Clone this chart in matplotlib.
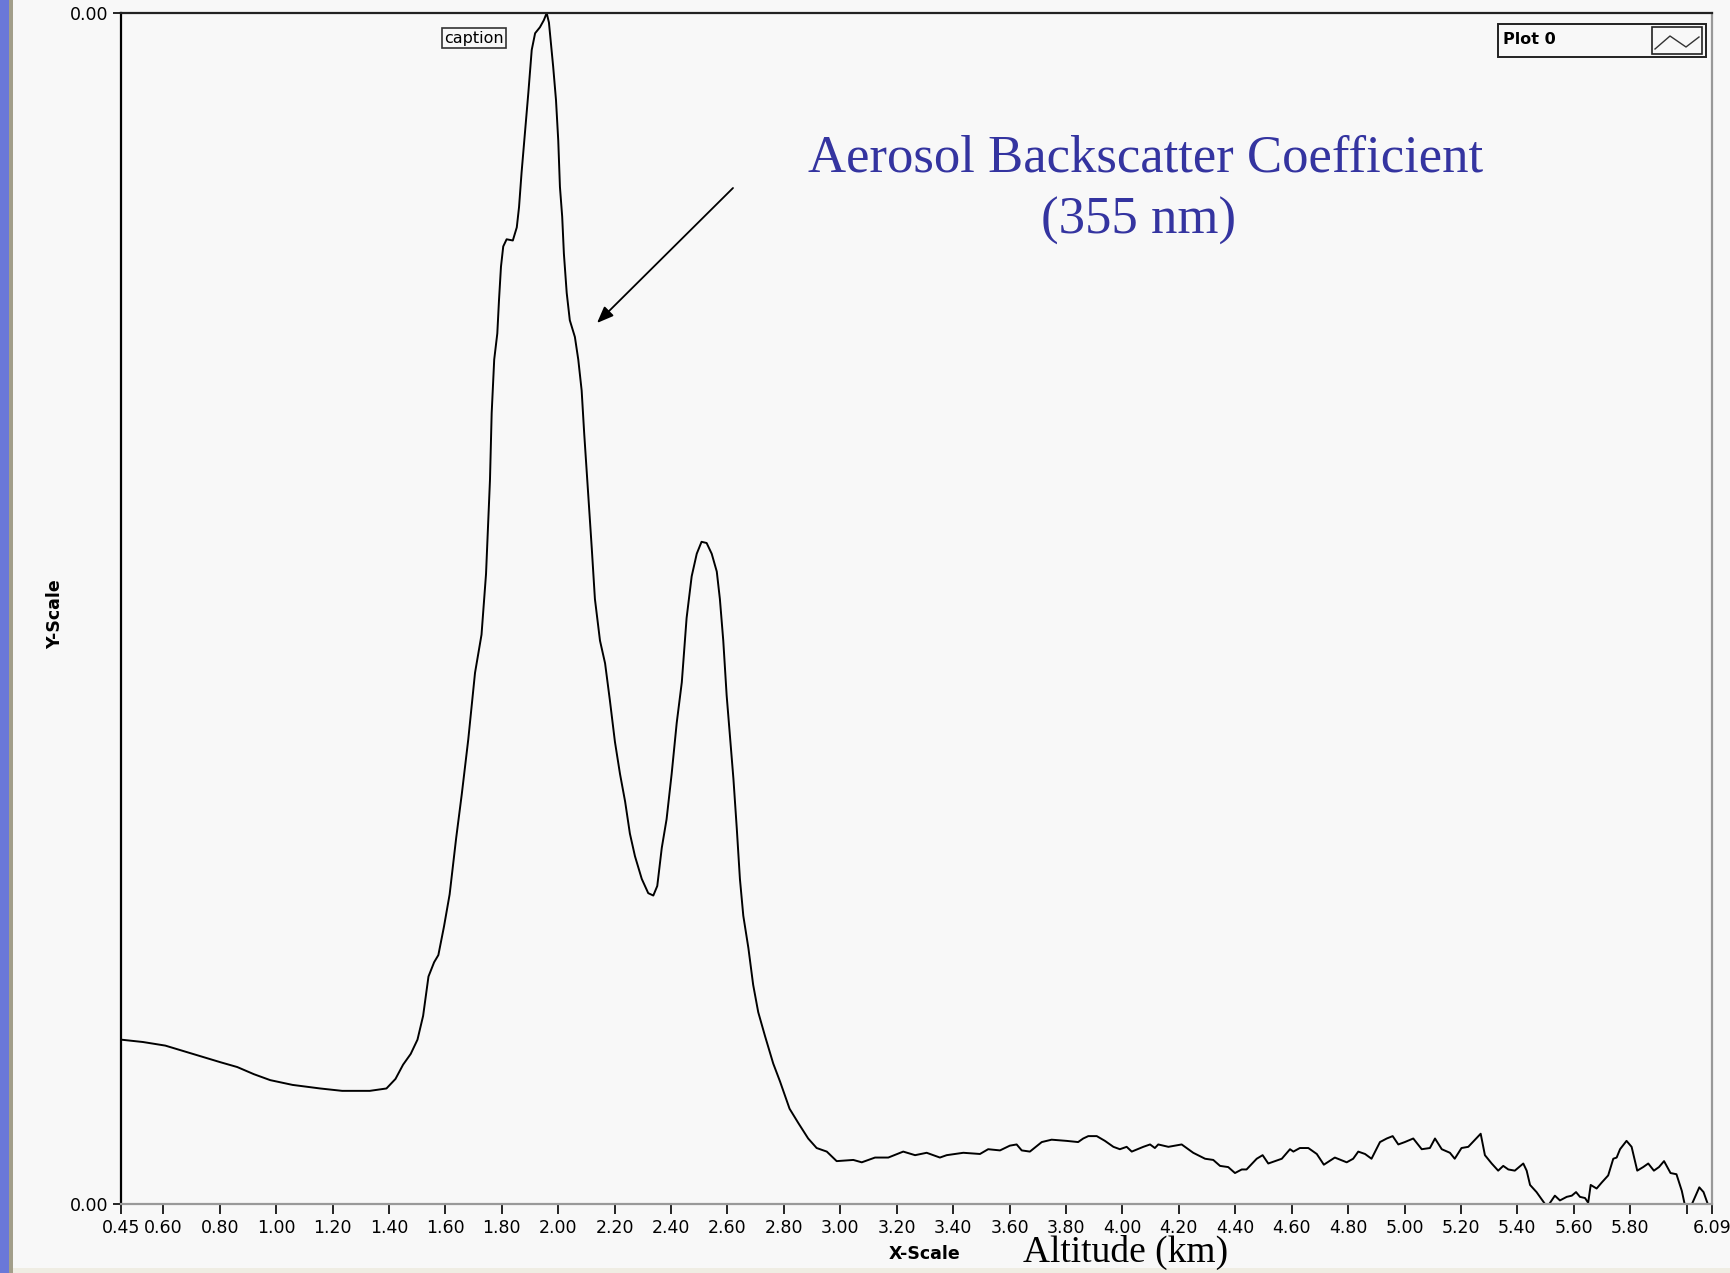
import matplotlib
matplotlib.use("Agg")
import matplotlib.pyplot as plt
from matplotlib.patches import Rectangle
from matplotlib.lines import Line2D
import numpy as np

# Altitude (km) and relative backscatter (percent of plotted range)
altitude_km = [
    0.450, 0.528, 0.607, 0.705, 0.803, 0.862, 0.921, 0.979, 1.058, 1.156, 1.234, 1.332,
    1.391, 1.423, 1.450, 1.477, 1.501, 1.521, 1.540, 1.560, 1.575, 1.595, 1.615, 1.638,
    1.658, 1.681, 1.705, 1.728, 1.744, 1.758, 1.764, 1.773, 1.784, 1.790, 1.797, 1.805,
    1.817, 1.839, 1.853, 1.861, 1.870, 1.882, 1.894, 1.906, 1.918, 1.935, 1.949, 1.959,
    1.967, 1.982, 1.992, 2.000, 2.006, 2.014, 2.020, 2.030, 2.041, 2.059, 2.071, 2.083,
    2.092, 2.103, 2.119, 2.130, 2.148, 2.166, 2.183, 2.201, 2.219, 2.237, 2.254, 2.272,
    2.296, 2.319, 2.337, 2.351, 2.367, 2.384, 2.402, 2.420, 2.438, 2.455, 2.473, 2.491,
    2.508, 2.526, 2.544, 2.562, 2.573, 2.585, 2.597, 2.609, 2.621, 2.633, 2.644, 2.656,
    2.674, 2.691, 2.709, 2.733, 2.762, 2.786, 2.820, 2.851, 2.886, 2.916, 2.952, 2.987,
    3.046, 3.076, 3.123, 3.170, 3.223, 3.265, 3.306, 3.353, 3.377, 3.436, 3.495, 3.524,
    3.566, 3.601, 3.625, 3.643, 3.672, 3.714, 3.749, 3.802, 3.843, 3.861, 3.879, 3.909,
    3.938, 3.968, 3.991, 4.015, 4.033, 4.074, 4.098, 4.115, 4.127, 4.163, 4.210, 4.251,
    4.293, 4.322, 4.346, 4.375, 4.399, 4.423, 4.440, 4.464, 4.476, 4.497, 4.517, 4.541,
    4.565, 4.594, 4.606, 4.629, 4.659, 4.689, 4.714, 4.753, 4.795, 4.818, 4.836, 4.860,
    4.883, 4.913, 4.937, 4.958, 4.978, 5.001, 5.031, 5.061, 5.090, 5.108, 5.132, 5.161,
    5.178, 5.202, 5.226, 5.270, 5.285, 5.309, 5.332, 5.350, 5.368, 5.391, 5.421, 5.433,
    5.445, 5.468, 5.498, 5.513, 5.533, 5.551, 5.575, 5.593, 5.608, 5.622, 5.640, 5.651,
    5.660, 5.681, 5.699, 5.722, 5.740, 5.752, 5.764, 5.787, 5.805, 5.825, 5.846, 5.864,
    5.884, 5.902, 5.920, 5.943, 5.964, 5.983, 5.993, 6.019, 6.045, 6.060, 6.075, 6.090]
backscatter_rel = [
    13.8, 13.6, 13.3, 12.6, 11.9, 11.5, 10.9, 10.4, 10.0, 9.7, 9.5, 9.5,
    9.7, 10.5, 11.7, 12.6, 13.8, 15.8, 19.1, 20.3, 20.9, 23.3, 26.0, 30.7,
    34.4, 39.0, 44.6, 47.8, 52.9, 60.8, 66.4, 70.9, 73.1, 75.9, 78.7, 80.4,
    81.0, 80.9, 82.0, 83.7, 86.6, 89.9, 93.3, 96.9, 98.3, 98.8, 99.4, 100.0,
    99.2, 95.5, 92.7, 89.3, 85.4, 82.9, 79.8, 76.5, 74.2, 72.8, 70.9, 68.3,
    64.7, 60.8, 55.0, 50.8, 47.3, 45.4, 42.3, 38.8, 36.1, 33.8, 31.1, 29.2,
    27.3, 26.1, 25.9, 26.7, 29.9, 32.3, 36.1, 40.4, 43.8, 49.2, 52.7, 54.6,
    55.6, 55.5, 54.6, 53.1, 50.8, 47.3, 42.7, 39.2, 35.7, 31.5, 27.3, 24.2,
    21.5, 18.4, 16.1, 14.1, 11.8, 10.3, 8.0, 6.8, 5.5, 4.7, 4.4, 3.6,
    3.7, 3.5, 3.9, 3.9, 4.4, 4.1, 4.3, 3.9, 4.1, 4.3, 4.2, 4.6,
    4.5, 4.9, 5.0, 4.5, 4.4, 5.2, 5.4, 5.3, 5.2, 5.5, 5.7, 5.7,
    5.3, 4.8, 4.6, 4.8, 4.4, 4.8, 5.0, 4.7, 5.0, 4.8, 5.0, 4.3,
    3.8, 3.7, 3.2, 3.1, 2.6, 2.9, 2.9, 3.5, 3.8, 4.1, 3.4, 3.6,
    3.8, 4.6, 4.4, 4.7, 4.7, 4.2, 3.3, 3.9, 3.5, 3.8, 4.4, 4.2,
    3.8, 5.2, 5.5, 5.7, 5.0, 5.2, 5.5, 4.6, 4.7, 5.5, 4.6, 4.3,
    3.8, 4.7, 4.8, 5.9, 4.1, 3.4, 2.8, 3.2, 2.9, 2.8, 3.4, 2.8,
    1.6, 1.0, 0.0, 0.0, 0.7, 0.3, 0.6, 0.7, 1.0, 0.6, 0.5, 0.1,
    1.6, 1.3, 1.8, 2.4, 3.8, 3.9, 4.6, 5.3, 4.8, 2.8, 3.1, 3.4,
    2.8, 3.1, 3.6, 2.6, 2.5, 1.1, 0.0, 0.0, 1.4, 1.0, 0.0, 0.0]

x_ticks = [0.45, 0.60, 0.80, 1.00, 1.20, 1.40, 1.60, 1.80, 2.00, 2.20, 2.40, 2.60,
           2.80, 3.00, 3.20, 3.40, 3.60, 3.80, 4.00, 4.20, 4.40, 4.60, 4.80, 5.00,
           5.20, 5.40, 5.60, 5.80, 6.00, 6.09]
x_tick_labels = ["0.45", "0.60", "0.80", "1.00", "1.20", "1.40", "1.60", "1.80", "2.00",
                 "2.20", "2.40", "2.60", "2.80", "3.00", "3.20", "3.40", "3.60", "3.80",
                 "4.00", "4.20", "4.40", "4.60", "4.80", "5.00", "5.20", "5.40", "5.60",
                 "5.80", "", "6.09"]
y_tick_labels = ["0.00", "0.00"]

W, H = 1731, 1273
fig = plt.figure(figsize=(W / 100, H / 100), dpi=100)
fig.patch.set_facecolor("#f8f8f8")

# window borders
fig.add_artist(Rectangle((0, 0), 9 / W, 1, transform=fig.transFigure, color="#6a78d8", lw=0))
fig.add_artist(Rectangle((9 / W, 0), 4 / W, 1, transform=fig.transFigure, color="#a29e8a", lw=0))
fig.add_artist(Rectangle((13 / W, 0), 1 - 13 / W, 5 / H, transform=fig.transFigure,
                         color="#efede3", lw=0))

ax = fig.add_axes([121 / W, 1 - 1204 / H, (1712 - 121) / W, (1204 - 13) / H])
ax.set_facecolor("#f8f8f8")
ax.plot(altitude_km, backscatter_rel, color="black", lw=1.4)
ymin, ymax = min(backscatter_rel), max(backscatter_rel)
ax.set_xlim(0.45, 6.09)
ax.set_ylim(ymin, ymax)

ax.set_xticks(x_ticks)
ax.set_xticklabels(x_tick_labels)
ax.set_yticks([ymin, ymax])
ax.set_yticklabels(y_tick_labels)
ax.tick_params(axis="x", direction="out", length=7, width=1.2, pad=4, labelsize=12.5,
               colors="black")
ax.tick_params(axis="y", direction="out", length=6, width=1.2, pad=3, labelsize=12.5)

ax.spines["left"].set_color("black")
ax.spines["left"].set_linewidth(1.6)
ax.spines["top"].set_color("#222222")
ax.spines["top"].set_linewidth(1.6)
ax.spines["bottom"].set_color("#999999")
ax.spines["bottom"].set_linewidth(1.6)
ax.spines["right"].set_color("#999999")
ax.spines["right"].set_linewidth(1.6)

# axis labels
fig.text(55 / W, 1 - 614 / H, "Y-Scale", rotation=90, ha="center", va="center",
         fontsize=12.5, fontweight="bold")
fig.text(925 / W, 1 - 1254 / H, "X-Scale", ha="center", va="center",
         fontsize=12.5, fontweight="bold")
fig.text(1126 / W, 1 - 1252 / H, "Altitude (km)", ha="center", va="center",
         fontsize=27, family="Liberation Serif")

# title annotation
blue = "#3434a0"
fig.text(1146 / W, 1 - 158 / H, "Aerosol Backscatter Coefficient", ha="center", va="center",
         fontsize=38, family="Liberation Serif", color=blue)
fig.text(1139 / W, 1 - 221 / H, "(355 nm)", ha="center", va="center",
         fontsize=38, family="Liberation Serif", color=blue)
ax.annotate("", xy=(597 / W, 1 - 323 / H), xytext=(733 / W, 1 - 188 / H),
            xycoords="figure fraction", textcoords="figure fraction",
            arrowprops=dict(arrowstyle="-|>,head_length=1.0,head_width=0.4",
                            color="black", lw=1.3, shrinkA=0, shrinkB=0))

# caption box
fig.text(474 / W, 1 - 38 / H, "caption", ha="center", va="center", fontsize=11.5,
         bbox=dict(boxstyle="square,pad=0.15", fc="#f8f8f8", ec="#333333", lw=1.2))

# legend box "Plot 0"
fig.add_artist(Rectangle((1498 / W, 1 - 57 / H), 208 / W, 33 / H, transform=fig.transFigure,
                         fc="#f8f8f8", ec="#222222", lw=1.4))
fig.text(1503 / W, 1 - 40 / H, "Plot 0", ha="left", va="center", fontsize=11.5,
         fontweight="bold")
fig.add_artist(Rectangle((1652 / W, 1 - 54 / H), 50 / W, 27 / H, transform=fig.transFigure,
                         fc="#f8f8f8", ec="#222222", lw=1.2))
icon_x = np.array([1655, 1670, 1686, 1699]) / W
icon_y = 1 - np.array([49, 36, 47, 37]) / H
fig.add_artist(Line2D(icon_x, icon_y, transform=fig.transFigure, color="#333333", lw=1))

fig.savefig("out.png", dpi=100, facecolor=fig.get_facecolor())
